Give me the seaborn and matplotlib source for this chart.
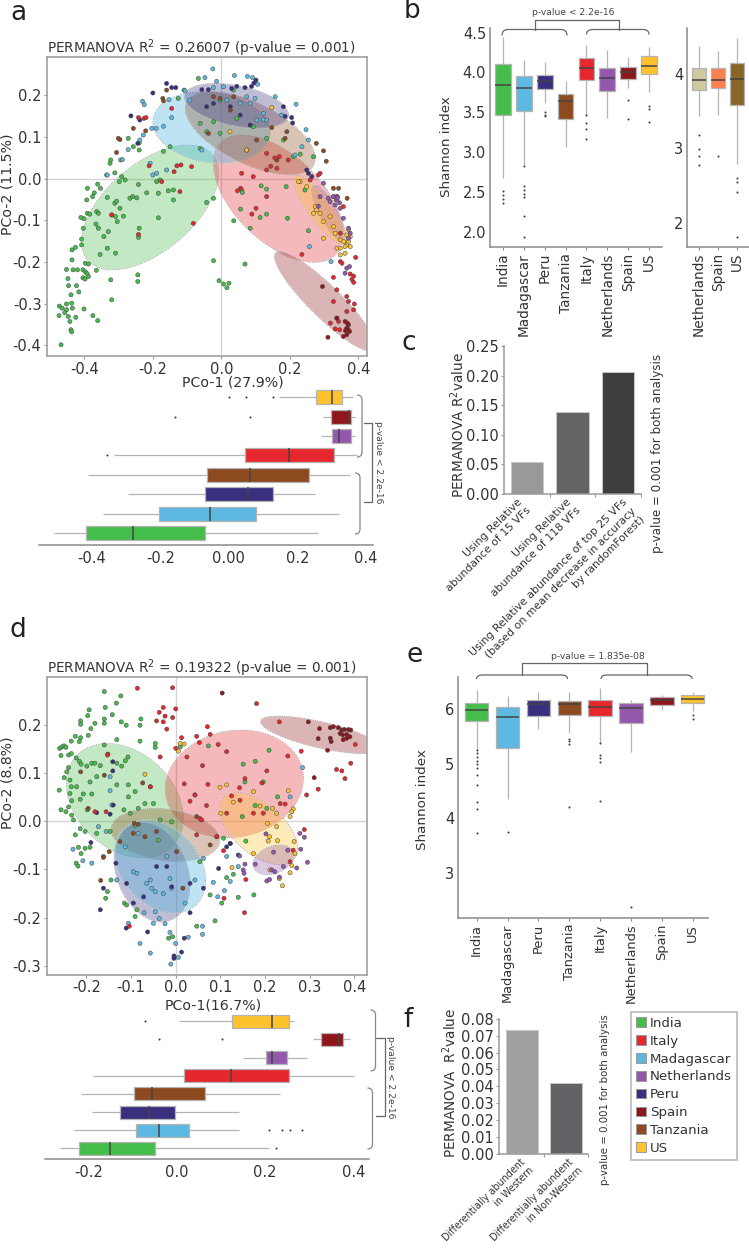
import numpy as np
import pandas as pd
import seaborn as sns
import matplotlib.pyplot as plt
from matplotlib.patches import Patch, PathPatch
from matplotlib.path import Path
from matplotlib.transforms import ScaledTranslation

W, H = 749, 1249
sns.set_theme(style='white')
plt.rcParams['font.family'] = ['DejaVu Sans']
plt.rcParams['text.color'] = '#333333'

countries = ['India', 'Italy', 'Madagascar', 'Netherlands', 'Peru', 'Spain', 'Tanzania', 'US']
palette = dict(zip(countries, ['#44bd4a', '#e6282e', '#5db9e2', '#9358ab', '#38307f', '#8f171b', '#8c4a1e', '#fdc22d']))
row_order = ['US', 'Spain', 'Netherlands', 'Italy', 'Tanzania', 'Peru', 'Madagascar', 'India']
col_order = ['India', 'Madagascar', 'Peru', 'Tanzania', 'Italy', 'Netherlands', 'Spain', 'US']

# panel a ordination points (PCo-1, PCo-2)
a_india = [(-.468,-.399),(-.474,-.329),(-.473,-.306),(-.465,-.311),(-.457,-.322),(-.452,-.301),(-.447,-.331),(-.442,-.343),
    (-.452,-.315),(-.437,-.299),(-.435,-.311),(-.425,-.333),(-.439,-.363),(-.437,-.368),(-.401,-.313),(-.375,-.329),(-.361,-.341),
    (-.320,-.291),(-.416,-.272),(-.423,-.257),(-.446,-.257),(-.439,-.279),(-.448,-.240),(-.452,-.218),(-.433,-.219),(-.420,-.219),
    (-.404,-.219),(-.397,-.203),(-.388,-.205),(-.397,-.224),(-.392,-.228),(-.404,-.238),(-.388,-.235),(-.398,-.241),(-.365,-.220),
    (-.323,-.243),(-.436,-.195),(-.436,-.171),(-.426,-.165),(-.408,-.159),(-.408,-.145),(-.403,-.119),(-.410,-.093),(-.401,-.096),
    (-.391,-.083),(-.384,-.085),(-.364,-.079),(-.359,-.083),(-.393,-.051),(-.391,-.023),(-.371,-.034),(-.361,-.013),(-.353,-.023),
    (-.376,-.043),(-.366,-.109),(-.359,-.119),(-.343,-.139),(-.330,-.127),(-.333,-.167),(-.354,-.182),(-.309,-.179),(-.320,-.087),
    (-.309,-.091),(-.304,-.103),(-.286,-.090),(-.296,-.071),(-.311,-.059),(-.306,-.054),(-.333,-.045),(-.267,-.047),(-.259,-.043),
    (-.247,-.046),(-.242,-.014),(-.291,.005),(-.281,-.003),(-.298,-.007),(-.311,.014),(-.335,.009),(-.325,.037),(-.242,-.141),
    (-.240,-.119),(-.244,-.231),(-.244,-.247),(-.218,-.034),(-.184,-.035),(-.155,-.029),(-.140,-.027),(-.140,-.051),(-.184,-.094),
    (-.043,-.057),(-.023,-.047),(-.023,-.197),(-.007,-.245),(.006,-.253),(.016,-.262),(.022,-.251),(.069,-.205),(.036,-.101),
    (.084,-.119),(.059,-.027),(.061,-.033),(.116,-.017),(.132,-.025),(.189,-.019),(.132,-.085),(.193,-.095),(.113,-.093),(.056,-.073),
    (.254,-.125),(.244,-.027),(-.179,-.003),(-.189,-.007),(-.240,.069),(-.240,.086),(-.257,.077),(-.272,.097),(-.294,.045),(-.323,.045),
    (-.169,.066),(-.150,.077),(-.062,.073),(-.043,.113),(-.004,.109),(-.067,.241),(-.126,.193),(-.109,.213),(-.062,.133),(-.023,.137),
    (.045,.145),(.093,.125),(.035,.213),(-.004,.189),(.132,.097),(.181,.093),(.210,.053),(.230,.059),(.269,.053)]
a_madagascar = [(-.025,.264),(-.048,.243),(-.014,.234),(.038,.248),(.076,.246),(.091,.243),(.106,.227),(.157,.197),(.218,.179),
    (-.230,.186),(-.225,.178),(-.153,.190),(-.145,.147),(-.169,.126),(-.203,.121),(-.190,.121),(-.228,.105),(-.238,.093),(-.272,.070),
    (-.289,.046),(-.333,.009),(-.208,.037),(-.200,.009),(-.189,.013),(-.160,.021),(-.057,.069),(-.106,.211),(-.092,.189),(-.023,.219),
    (.006,.221),(.098,.193),(.123,.142),(.103,.141),(.132,.141),(.176,.153),(.235,.077),(.247,.118),(.254,.093),(.215,.057),(.320,-.199),
    (.257,-.163),(.016,.189),(.055,.181),(.074,.197),(.123,.157),(.084,.181)]
a_peru = [(-.160,.229),(-.145,.219),(-.133,.219),(-.200,.206),(-.264,.151),(-.238,.141),(-.244,.085),(.101,.237),(.095,.230),(.088,.222),
    (.069,.219),(.045,.222),(.030,.217),(-.057,.214),(-.038,.214),(.181,.173),(.186,.150),(.205,.147),(.208,.134),(.249,.021),(.254,.013),
    (.264,.005),(.026,.173),(.055,.153),(.084,.129),(-.043,.173),(-.023,.181)]
a_tanzania = [(-.171,.193),(-.169,.187),(-.160,.213),(-.257,.121),(-.296,.094),(-.306,.063),(-.301,.097),(-.221,.115),(.147,.123),(.191,.113),
    (.186,.097),(.298,.067),(.306,.042),(.277,.085),(.327,-.023),(.337,-.043),(.342,-.023),(-.038,.109),(-.004,.193),(.026,.165),(.036,.197),
    (.103,.093),(.337,-.043),(.367,-.047),(.074,.069),(-.023,.197),(.336,-.051),(.162,.045)]
a_italy = [(-.242,.147),(-.226,.145),(-.220,.147),(-.211,.031),(-.130,.031),(-.118,.033),(-.138,.017),(-.087,.029),(-.174,-.007),(-.121,-.031),
    (-.320,-.087),(-.242,-.134),(-.082,-.107),(.047,-.029),(.089,-.085),(.101,-.071),(.056,-.023),(.132,-.043),(.132,.061),(.156,.050),
    (.169,.053),(.195,.045),(.162,.025),(.144,.030),(.132,.021),(.093,.005),(.059,.013),(.235,-.182),(.392,-.189),(.347,-.199),(.352,-.203),
    (.327,-.237),(.381,-.242),(.386,-.234),(.376,-.229),(.386,-.249),(.337,-.267),(.366,-.283),(.371,-.295),(.388,-.301),(.366,-.319),(.386,-.315),
    (.327,-.295),(.337,-.335),(.318,-.347),(.332,-.361),(.345,-.363),(.342,-.343),(.356,-.067),(.347,-.131),(.288,.013),(.259,-.003),(.283,.009),(-.145,.169)]
a_spain = [(.295,-.259),(.337,-.335),(.361,-.343),(.371,-.351),(.366,-.359),(.374,-.367),(.366,-.375),(.356,-.379),(.311,-.381),(.368,-.347),(.362,-.365),(.370,-.362)]
a_us = [(.371,-.123),(.366,-.135),(.376,-.139),(.371,-.151),(.366,-.159),(.347,-.167),(.337,-.167),(.376,-.163),(.361,-.179),(.347,-.183),(.361,-.163),
    (.230,-.007),(.225,-.007),(.249,-.019),(.274,-.067),(.278,-.075),(.269,-.083),(.288,-.083),(.298,-.103),(.317,-.091),(.327,-.115),(.332,-.131),
    (.298,-.143),(.347,-.147),(.357,-.151),(.147,.171),(.025,.113),(.074,.069),(.327,-.043)]
a_netherlands = [(.298,-.011),(.312,-.047),(.317,-.055),(.327,-.043),(.337,-.051),(.332,-.063),(.347,-.071),(.371,-.119),(.376,-.131),(.371,-.143),
    (.366,-.215),(.374,-.211),(.361,-.227),(.356,-.095),(.288,-.043),(.283,-.066),(.340,-.045),(.345,-.058)]

# panel d ordination points
d_india = [(-.160,.270),(-.123,.261),(-.133,.246),(-.158,.237),(-.194,.232),(-.197,.220),(-.142,.222),(-.213,.209),(-.213,.202),(-.160,.213),
    (-.160,.204),(-.181,.204),(-.122,.207),(-.111,.200),(-.078,.213),(-.080,.200),(-.190,.193),(-.225,.177),(-.213,.174),(-.196,.179),(-.216,.166),
    (-.234,.167),(-.260,.152),(-.255,.155),(-.250,.157),(-.246,.154),(-.257,.137),(-.240,.138),(-.234,.141),(-.223,.132),(-.132,.170),(-.160,.159),
    (-.107,.134),(-.113,.126),(-.121,.115),(-.132,.121),(-.080,.167),(-.046,.162),(-.046,.154),(-.216,.125),(-.212,.119),(-.188,.121),(-.181,.121),
    (-.169,.116),(-.199,.115),(-.240,.112),(-.244,.103),(-.250,.091),(-.237,.086),(-.234,.072),(-.261,.065),(-.237,.058),(-.222,.072),(-.207,.057),
    (-.188,.057),(-.214,.046),(-.233,.043),(-.240,.030),(-.257,.024),(-.246,.020),(-.229,.003),(-.233,.013),(-.198,.024),(-.177,.093),(-.192,.082),
    (-.132,.076),(-.106,.076),(-.091,.062),(-.106,.051),(-.069,.037),(-.084,.027),(-.116,.024),(-.102,.017),(-.050,.037),(-.035,.003),(-.009,-.001),
    (-.039,-.039),(-.091,-.008),(-.214,-.015),(-.225,-.028),(-.203,-.021),(-.177,-.025),(-.147,-.021),(-.218,-.054),(-.203,-.056),(-.192,-.054),
    (-.212,-.067),(-.223,-.087),(-.219,-.093),(-.162,-.073),(-.145,-.122),(-.153,-.146),(-.157,-.160),(-.115,-.170),(-.110,-.174),(-.087,-.184),
    (-.091,-.198),(.047,-.218),(-.016,-.243),(-.007,-.240),(.054,-.084),(.077,-.153),(.103,-.170),(.114,-.117),(.129,-.110),(.088,-.207),(.140,-.158),
    (.175,-.153),(.157,-.041),(.228,.051),(.178,.125),(.209,.148),(.151,.119),(.155,.082),(.196,.082),(.073,.157),(.010,.155),(.178,.033),(.204,.027),
    (.149,.010),(.107,-.035)]
d_italy = [(-.086,.277),(-.007,.278),(-.028,.237),(-.037,.227),(0,.234),(-.007,.216),(-.024,.219),(-.043,.209),(-.028,.207),(-.020,.192),(.071,.197),
    (.013,.174),(.047,.177),(.053,.164),(.077,.181),(0,.152),(.025,.134),(.095,.160),(.114,.145),(.060,.116),(.204,.105),(.251,.136),(.232,.207),(.181,.245),
    (.281,.146),(.019,.078),(.072,.077),(.043,.055),(.032,.042),(.069,.033),(.054,.006),(.058,.003),(.047,-.028),(.125,.053),(.143,.070),(.155,.089),(.193,.080),
    (.092,-.032),(.107,-.061),(.157,-.121),(.154,-.190),(.108,-.160),(-.104,-.218),(-.035,.134),(-.057,.072),(.293,.055),(.319,.067),(.360,.108),(.372,.105),
    (.379,.089),(.392,.121),(.402,.160),(.288,-.017),(.263,-.060),(.256,-.084),(.144,.044),(.174,.017),(.114,.017),(-.153,.138),(-.156,.020),(-.181,.020),
    (.234,.037),(.245,.036),(.196,.017)]
d_madagascar = [(-.230,-.058),(-.208,-.082),(-.188,-.087),(-.173,-.011),(-.147,.093),(-.147,.064),(-.143,.034),(-.156,-.021),(-.132,-.122),(-.095,-.105),
    (-.087,-.108),(-.065,-.129),(-.054,-.139),(-.046,-.146),(-.057,-.122),(-.013,-.119),(-.028,-.150),(-.009,-.139),(-.046,-.188),(-.037,-.202),(-.024,-.213),
    (-.050,-.212),(-.106,-.212),(-.071,-.190),(-.080,-.254),(-.057,-.274),(-.013,-.231),(0,-.254),(.028,-.241),(.060,-.218),(.060,-.235),(-.011,-.297),
    (.006,-.283),(.062,-.077),(.043,-.122),(.084,-.127),(.094,-.157),(.109,-.144),(.122,-.125),(.114,-.073),(.140,-.094),(.122,-.046),(.043,.055),(.284,.112),
    (.256,.051),(-.084,-.025),(-.113,-.053),(-.020,-.073),(.021,-.170)]
d_peru = [(-.169,-.184),(-.111,-.222),(-.063,-.230),(.019,-.243),(.013,-.272),(-.004,-.280),(-.004,-.285),(-.162,-.139),(-.190,-.044),(-.177,.018),(-.141,.124),
    (-.141,.105),(-.140,.034),(-.147,.015),(-.072,-.157),(-.110,-.129),(-.134,-.087),(-.043,-.094),(-.020,-.094),(-.009,-.136),(.032,-.190),(.062,-.139),
    (.096,-.098),(.122,-.046),(.140,-.070),(.114,-.053),(-.095,-.170),(.032,-.129)]
d_tanzania = [(-.168,-.123),(-.149,-.063),(-.162,-.075),(-.196,.027),(-.213,.103),(-.160,.096),(-.152,.140),(-.074,.080),(-.057,.072),(-.093,-.004),(-.084,-.006),
    (-.069,-.032),(-.095,-.025),(.077,-.049),(.092,-.032),(-.043,-.021),(.002,-.063),(-.125,-.042),(.016,-.139),(.047,.010)]
d_spain = [(.383,.181),(.372,.190),(.378,.191),(.387,.191),(.392,.190),(.364,.195),(.353,.197),(.383,.173),(.375,.170),(.390,.176),(.368,.183),(.346,.195),(.322,.193),
    (.297,.207),(.319,.172),(.346,.173),(.348,.166),(.340,.148),(.310,.091),(.104,.267),(.374,.180)]
d_netherlands = [(.202,-.026),(.278,-.025),(.288,-.033),(.280,-.058),(.295,-.085),(.271,-.097),(.219,-.064),(.251,-.060),(.178,-.089),(.155,-.089),(.151,-.101),(.153,-.108),
    (.204,-.124),(.210,-.121),(.215,-.101),(.222,-.105),(.241,-.094),(.232,-.116),(.143,-.072)]
d_us = [(.019,.161),(.010,.162),(.006,.146),(-.069,.098),(.099,.071),(.114,.076),(.101,.017),(.129,.040),(.174,.062),(.189,.032),(.217,.027),(.226,.017),(.206,-.004),(.226,-.011),
    (.210,-.032),(.207,-.041),(.228,-.040),(.265,-.042),(.263,.026),(.260,.020),(.256,.010),(.267,-.067),(.174,-.067),(.126,-.096),(.232,-.119),(.239,-.134),(.260,-.092),(.256,-.107),
    (.211,-.101),(.252,.064)]

# group ellipses: centre x, centre y, half width, half height, correlation
a_ellipses = {'India': (-.208,-.069,.200,.150,.55), 'Italy': (.166,-.048,.190,.153,-.55), 'Madagascar': (-.029,.123,.171,.086,-.15),
              'Tanzania': (.084,.109,.190,.100,-.6), 'Peru': (.044,.175,.152,.054,-.4), 'Spain': (.303,-.295,.148,.120,-.9),
              'Netherlands': (.313,-.083,.050,.068,-.8), 'US': (.288,-.075,.078,.084,-.85)}
d_ellipses = {'India': (-.114,.043,.131,.119,-.3), 'Italy': (.131,.078,.155,.112,.1), 'Tanzania': (-.023,-.028,.122,.055,-.2),
              'Peru': (-.053,-.105,.085,.104,-.25), 'Madagascar': (-.035,-.094,.102,.097,-.3), 'US': (.185,-.015,.088,.075,-.55),
              'Netherlands': (.219,-.080,.046,.031,.3), 'Spain': (.324,.180,.134,.039,-.7)}

# horizontal boxes, top row first: low whisker, q1, median, q3, high whisker
ha_low = [.145, .276, .268, -.336, -.412, -.295, -.367, -.512]
ha_q1 = [.253, .297, .300, .047, -.063, -.070, -.204, -.418]
ha_med = [.302, .350, .323, .176, .062, .056, -.055, -.279]
ha_q3 = [.329, .356, .356, .306, .235, .130, .080, -.071]
ha_high = [.362, .367, .367, .373, .353, .251, .322, .260]
ha_fliers = [[-.001, .05, .128], [-.159, .063], [], [-.357], [], [], [], []]

hd_low = [.005, .309, .151, -.190, -.216, -.192, -.232, -.264]
hd_q1 = [.124, .326, .201, .017, -.097, -.129, -.092, -.222]
hd_med = [.215, .367, .215, .123, -.056, -.063, -.039, -.152]
hd_q3 = [.253, .376, .250, .255, .063, -.005, .028, -.049]
hd_high = [.265, .391, .294, .401, .234, .142, .142, .208]
hd_fliers = [[-.072], [-.039, .103], [], [], [], [], [.209, .238, .256, .284], [.225]]

# Shannon boxes
b_low = [2.67, 2.82, 3.61, 3.06, 3.47, 3.43, 3.81, 3.76]
b_q1 = [3.47, 3.51, 3.79, 3.42, 3.91, 3.77, 3.92, 3.98]
b_med = [3.84, 3.81, 3.89, 3.64, 4.05, 3.93, 4.00, 4.08]
b_q3 = [4.11, 3.96, 3.97, 3.73, 4.18, 4.05, 4.07, 4.21]
b_high = [4.44, 4.16, 4.13, 3.89, 4.35, 4.28, 4.19, 4.32]
b_fliers = [[2.51, 2.46, 2.41, 2.36], [2.83, 2.58, 2.53, 2.48, 2.44, 2.2, 1.93], [3.5, 3.47, 3.45], [], [3.46, 3.36, 3.29, 3.17], [], [3.66, 3.41], [3.58, 3.54, 3.38]]

b2_labels = ['Netherlands', 'Spain', 'US']
b2_colors = ['#cfc9a0', '#fb7f50', '#8a6527']
b2_low = [3.43, 3.45, 2.79]
b2_q1 = [3.78, 3.81, 3.58]
b2_med = [3.91, 3.91, 3.93]
b2_q3 = [4.08, 4.08, 4.14]
b2_high = [4.37, 4.30, 4.48]
b2_fliers = [[3.18, 2.99, 2.89, 2.78], [2.89], [2.6, 2.54, 2.41, 1.80]]

e_low = [5.25, 4.35, 5.63, 5.57, 5.39, 5.22, 5.98, 5.96]
e_q1 = [5.79, 5.28, 5.87, 5.90, 5.87, 5.74, 6.08, 6.12]
e_med = [5.98, 5.85, 6.09, 6.09, 6.05, 6.02, 6.18, 6.19]
e_q3 = [6.11, 6.04, 6.18, 6.16, 6.18, 6.11, 6.22, 6.26]
e_high = [6.36, 6.24, 6.31, 6.31, 6.39, 6.17, 6.26, 6.32]
e_fliers = [[5.25, 5.2, 5.12, 5.05, 5.0, 4.93, 4.79, 4.6, 4.3, 4.17, 3.72], [3.74], [], [5.45, 5.41, 5.36, 4.21], [5.39, 5.16, 5.1, 5.03, 4.31], [2.36], [], [5.9, 5.83]]

# bars
c_labels = ['Using Relative\nabundance of 15 VFs', 'Using Relative\nabundance of 118 VFs',
            'Using Relative abundance of top 25 VFs\n(based on mean decrease in accuracy\nby randomForest)']
c_values = [.0535, .139, .2066]
c_colors = ['#97999b', '#636466', '#3f3f40']
f_labels = ['Differentially abundent\nin Western', 'Differentially abundent\nin Non-Western']
f_values = [.0735, .042]
f_colors = ['#a0a0a0', '#626366']

fig = plt.figure(figsize=(W / 100, H / 100), dpi=100)


def px_axes(x0, y0, x1, y1):
    return fig.add_axes([x0 / W, 1 - y1 / H, (x1 - x0) / W, (y1 - y0) / H], facecolor='none')


overlay = fig.add_axes([0, 0, 1, 1], zorder=5)
overlay.set_xlim(0, W)
overlay.set_ylim(H, 0)
overlay.axis('off')


def points_frame(groups):
    rows = [(name, x, y) for name, pts in groups.items() for x, y in pts]
    return pd.DataFrame(rows, columns=['country', 'x', 'y'])


def ordination(ax, groups, ellipses, xlim, ylim, xticks, yticks):
    t = np.linspace(0, 2 * np.pi, 200)
    for name, (cx, cy, sx, sy, rho) in ellipses.items():
        ex = cx + sx * np.cos(t)
        ey = cy + sy * (rho * np.cos(t) + np.sqrt(1 - rho ** 2) * np.sin(t))
        ax.fill(ex, ey, facecolor=palette[name], alpha=.4 if name == 'Madagascar' else .32, zorder=1)
        ax.plot(ex, ey, color='#777777', lw=.5, ls=':', zorder=1)
    ax.axhline(0, color='#d4d4d4', lw=1, zorder=0)
    ax.axvline(0, color='#d4d4d4', lw=1, zorder=0)
    sns.scatterplot(data=points_frame(groups), x='x', y='y', hue='country', palette=palette, s=9,
                    edgecolor='#444444', linewidth=.35, legend=False, zorder=2, ax=ax)
    ax.set_xlim(*xlim)
    ax.set_ylim(*ylim)
    ax.set_xticks(xticks)
    ax.set_yticks(yticks)
    ax.tick_params(labelsize=10.5, length=2, width=.8, color='#999999', pad=2, labelcolor='#333333', bottom=True, left=True)
    for s in ax.spines.values():
        s.set_color('#a0a0a0')
        s.set_linewidth(1.2)


def box_frame(labels, low, q1, med, q3, high):
    rows = [(n, v) for n, *vals in zip(labels, low, q1, med, q3, high) for v in vals]
    return pd.DataFrame(rows, columns=['country', 'value'])


def flier_frame(labels, fliers):
    rows = [(n, v) for n, vals in zip(labels, fliers) for v in vals]
    return pd.DataFrame(rows, columns=['country', 'value'])


def boxes(ax, labels, colors, stats, fliers, horizontal, width):
    df = box_frame(labels, *stats)
    fl = flier_frame(labels, fliers)
    xy = {'x': 'value', 'y': 'country'} if horizontal else {'x': 'country', 'y': 'value'}
    sns.boxplot(data=df, order=labels, hue='country', hue_order=labels, palette=colors, whis=(0, 100), width=width,
                fliersize=0, showcaps=False, linecolor='#b4b4b4', linewidth=.9, saturation=1, legend=False,
                medianprops={'color': '#444444', 'linewidth': 1.1}, ax=ax, **xy)
    sns.stripplot(data=fl, order=labels, jitter=False, size=1.5, color='#444444', ax=ax, **xy)
    ax.set_xlabel('')
    ax.set_ylabel('')
    sns.despine(ax=ax)
    for side in ['left', 'bottom']:
        ax.spines[side].set_color('#8a8a8a')
        ax.spines[side].set_linewidth(1.1)


def hbox(ax, stats, fliers, xlim, ticks, ticklabels):
    boxes(ax, row_order, palette, stats, fliers, True, .72)
    ax.set_xlim(*xlim)
    ax.set_ylim(7.6, -.62)
    ax.set_xticks(ticks, ticklabels)
    ax.set_yticks([])
    ax.spines['left'].set_visible(False)
    ax.tick_params(axis='x', labelsize=10.5, length=0, pad=4, labelcolor='#333333')


def vbox(ax, labels, colors, stats, fliers, xlim, ylim, yticks, yticklabels, xfs=9.8):
    boxes(ax, labels, colors, stats, fliers, False, .76)
    ax.set_xlim(*xlim)
    ax.set_ylim(*ylim)
    ax.set_yticks(yticks, yticklabels)
    ax.tick_params(axis='y', labelsize=10.5, length=0, pad=3, labelcolor='#333333')
    ax.tick_params(axis='x', labelsize=xfs, length=2, width=.8, color='#8a8a8a', pad=2, labelcolor='#333333', bottom=True, rotation=90)


def bars(ax, labels, values, colors, ylim, yticks, yfmt, xlim, width, fs, shifts):
    sns.barplot(x=labels, y=values, hue=labels, palette=colors, width=width, saturation=1, edgecolor='#c8c8c8',
                linewidth=.7, legend=False, ax=ax)
    ax.set_xlim(*xlim)
    ax.set_ylim(*ylim)
    ax.set_yticks(yticks, [yfmt % v for v in yticks])
    ax.set_xticks(np.arange(len(labels)) + .5, minor=True)
    sns.despine(ax=ax)
    for side in ['left', 'bottom']:
        ax.spines[side].set_color('#9a9a9a')
        ax.spines[side].set_linewidth(1.1)
    ax.tick_params(axis='y', labelsize=10.5, length=2, width=.8, color='#9a9a9a', pad=2, labelcolor='#333333', left=True)
    ax.tick_params(axis='x', which='major', length=0, pad=2)
    ax.tick_params(axis='x', which='minor', length=2, width=.8, color='#9a9a9a', bottom=True)
    for lab, shift in zip(ax.get_xticklabels(), shifts):
        lab.set(rotation=45, ha='right', va='top', rotation_mode='anchor', multialignment='right', fontsize=fs, color='#333333', linespacing=1.3)
        lab.set_transform(lab.get_transform() + ScaledTranslation(shift / 100, 0, fig.dpi_scale_trans))


def bracket_h(x0, x1, y, drop, r=6):
    verts = [(x0, y + drop), (x0, y), (x0 + r, y), (x1 - r, y), (x1, y), (x1, y + drop)]
    codes = [Path.MOVETO, Path.CURVE3, Path.CURVE3, Path.LINETO, Path.CURVE3, Path.CURVE3]
    overlay.add_patch(PathPatch(Path(verts, codes), fc='none', ec='#666666', lw=.9))


def bracket_v(y0, y1, x, drop, r=5):
    verts = [(x - drop, y0), (x, y0), (x, y0 + r), (x, y1 - r), (x, y1), (x - drop, y1)]
    codes = [Path.MOVETO, Path.CURVE3, Path.CURVE3, Path.LINETO, Path.CURVE3, Path.CURVE3]
    overlay.add_patch(PathPatch(Path(verts, codes), fc='none', ec='#888888', lw=.9))


def link(xs, ys):
    overlay.plot(xs, ys, color='#666666', lw=.9)


# a
ax_a = px_axes(47, 57, 367, 356)
ordination(ax_a, {'India': a_india, 'Madagascar': a_madagascar, 'Peru': a_peru, 'Tanzania': a_tanzania, 'Italy': a_italy,
                  'Spain': a_spain, 'US': a_us, 'Netherlands': a_netherlands},
           a_ellipses, (-.509, .425), (-.426, .2925), [-.4, -.2, 0, .2, .4], [-.4, -.3, -.2, -.1, 0, .1, .2])
ax_a.set_xticklabels(['-0.4', '-0.2', '0.0', '0.2', '0.4'])
ax_a.set_yticklabels(['-0.4', '-0.3', '-0.2', '-0.1', '0.0', '0.1', '0.2'])
ax_a.set_title('PERMANOVA R$^2$ = 0.26007 (p-value = 0.001)', fontsize=9.8, x=.483, pad=3, color='#333333')
ax_a.set_xlabel('PCo-1 (27.9%)', fontsize=10.2, color='#333333')
ax_a.set_ylabel('PCo-2 (11.5%)', fontsize=10.2, color='#333333')
ax_a.xaxis.set_label_coords(233, 375, transform=overlay.transData)
ax_a.yaxis.set_label_coords(15, 184, transform=overlay.transData)

ax_ah = px_axes(39, 385, 373, 545)
hbox(ax_ah, (ha_low, ha_q1, ha_med, ha_q3, ha_high), ha_fliers, (-.555, .421), [-.4, -.2, 0, .2, .4], ['-0.4', '-0.2', '0.00', '0.2', '0.4'])
bracket_v(395, 457, 362, 5)
bracket_v(473, 534, 360, 5)
link([364, 372, 372, 364], [423, 423, 502, 502])
overlay.text(379, 462, 'p-value < 2.2e-16', rotation=270, ha='center', va='center', fontsize=6.6, color='#444444')

# b
ax_b = px_axes(490.3, 28, 661.7, 247.3)
boxes_b = (b_low, b_q1, b_med, b_q3, b_high)
vbox(ax_b, col_order, palette, boxes_b, b_fliers, (-.607, 7.607), (1.806, 4.557), [2, 2.5, 3, 3.5, 4, 4.5], ['2.0', '2.5', '3.0', '3.5', '4.0', '4.5'])
ax_b.set_ylabel('Shannon index', fontsize=9.7, color='#333333')
ax_b.yaxis.set_label_coords(453, 147, transform=overlay.transData)
bracket_h(502, 567, 29.5, 6)
bracket_h(586.5, 649, 29.5, 5)
link([534.5, 534.5, 619, 619], [29.5, 20, 20, 29.5])
overlay.text(573, 12, 'p-value < 2.2e-16', ha='center', va='center', fontsize=6.6, color='#444444')

ax_b2 = px_axes(687.3, 28, 749, 247.3)
b2_palette = dict(zip(b2_labels, b2_colors))
vbox(ax_b2, b2_labels, b2_palette, (b2_low, b2_q1, b2_med, b2_q3, b2_high), b2_fliers, (-.6, 2.62), (1.668, 4.614), [2, 3, 4], ['2', '3', '4'])

# c
ax_c = px_axes(504, 346, 640.7, 494)
bars(ax_c, c_labels, c_values, c_colors, (0, .25), [0, .05, .10, .15, .20, .25], '%.2f', (-.5, 2.48), .71, 7.8, [-10, -6, 4])
ax_c.set_ylabel('PERMANOVA R$^2$value', fontsize=9.8, color='#333333')
ax_c.yaxis.set_label_coords(467, 425, transform=overlay.transData)
overlay.text(657, 453, 'p-value = 0.001 for both analysis', rotation=90, ha='center', va='center', fontsize=8.6, color='#333333')

# d
ax_d = px_axes(46.7, 676.7, 367.3, 974.7)
ordination(ax_d, {'India': d_india, 'Madagascar': d_madagascar, 'Peru': d_peru, 'Tanzania': d_tanzania, 'Italy': d_italy,
                  'Spain': d_spain, 'US': d_us, 'Netherlands': d_netherlands},
           d_ellipses, (-.289, .429), (-.319, .301), [-.2, -.1, 0, .1, .2, .3, .4], [-.3, -.2, -.1, 0, .1, .2])
ax_d.set_xticklabels(['-0.2', '-0.1', '0.0', '0.1', '0.2', '0.3', '0.4'])
ax_d.set_yticklabels(['-0.3', '-0.2', '-0.1', '0.0', '0.1', '0.2'])
ax_d.set_title('PERMANOVA R$^2$ = 0.19322 (p-value = 0.001)', fontsize=9.8, x=.483, pad=3, color='#333333')
ax_d.set_xlabel('PCo-1(16.7%)', fontsize=10.2, color='#333333')
ax_d.set_ylabel('PCo-2 (8.8%)', fontsize=10.2, color='#333333')
ax_d.xaxis.set_label_coords(213, 998, transform=overlay.transData)
ax_d.yaxis.set_label_coords(15, 783, transform=overlay.transData)

ax_dh = px_axes(45, 1010, 369, 1159.3)
hbox(ax_dh, (hd_low, hd_q1, hd_med, hd_q3, hd_high), hd_fliers, (-.298, .435), [-.2, 0, .2, .4], ['-0.2', '0.0', '0.2', '0.4'])
bracket_v(1010, 1071, 375.5, 5)
bracket_v(1088, 1149, 372.5, 5)
link([376, 385, 385, 376], [1038, 1038, 1116, 1116])
overlay.text(391, 1077, 'p-value < 2.2e-16', rotation=270, ha='center', va='center', fontsize=6.6, color='#444444')

# e
ax_e = px_axes(458.3, 677.3, 707.7, 918.3)
vbox(ax_e, col_order, palette, (e_low, e_q1, e_med, e_q3, e_high), e_fliers, (-.594, 7.486), (2.16, 6.588), [3, 4, 5, 6], ['3', '4', '5', '6'], xfs=9.4)
ax_e.set_ylabel('Shannon index', fontsize=9.7, color='#333333')
ax_e.yaxis.set_label_coords(429, 800, transform=overlay.transData)
bracket_h(476.5, 567.5, 675, 4)
bracket_h(601, 692, 675, 4)
link([521.5, 521.5, 646.5, 646.5], [675, 662.5, 662.5, 675])
overlay.text(597.5, 656, 'p-value = 1.835e-08', ha='center', va='center', fontsize=6.6, color='#444444')

# f
ax_f = px_axes(499.3, 1018.7, 588.3, 1154)
bars(ax_f, f_labels, f_values, f_colors, (0, .08), [0, .01, .02, .03, .04, .05, .06, .07, .08], '%.2f', (-.51, 1.496), .72, 6.9, [-2, 2])
ax_f.set_ylabel('PERMANOVA  R$^2$value', fontsize=9.8, color='#333333')
ax_f.yaxis.set_label_coords(459, 1083, transform=overlay.transData)
overlay.text(605, 1100, 'p-value = 0.001 for both analysis', rotation=90, ha='center', va='center', fontsize=7.4, color='#333333')

# legend
handles = [Patch(facecolor=palette[c], edgecolor='#999999', lw=.7, label=c) for c in countries]
leg = overlay.legend(handles=handles, loc='upper left', bbox_to_anchor=(630.7, 1012), bbox_transform=overlay.transData,
                     fontsize=9.65, frameon=True, fancybox=False, edgecolor='#a0a0a0', handlelength=.75, handleheight=.75,
                     handletextpad=.3, labelspacing=.36, borderpad=.37, borderaxespad=0)
leg.get_frame().set_linewidth(1.1)

for letter, x, y in [('a', 18, 13), ('b', 412, 11), ('c', 409, 343), ('d', 18, 630), ('e', 415, 655), ('f', 408, 1020)]:
    overlay.text(x, y, letter, ha='center', va='center', fontsize=19, color='#222222')

fig.savefig('out.png', dpi=100)
